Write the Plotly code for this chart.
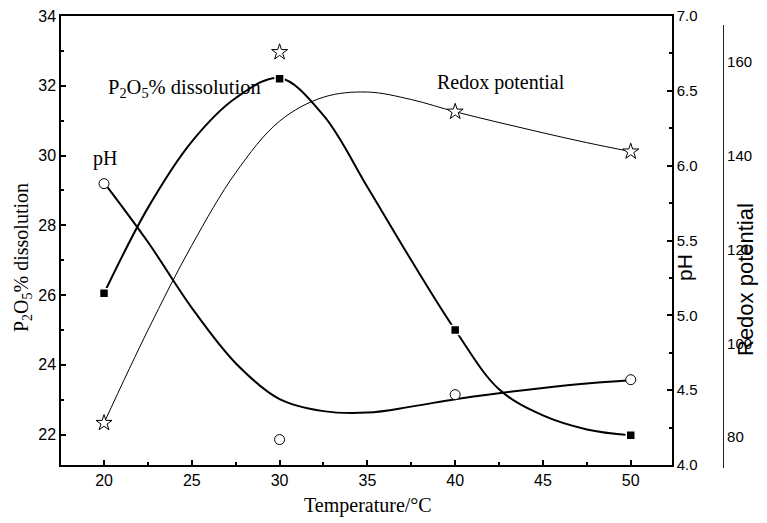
import plotly.graph_objects as go

# ---- measured data points ----
temperature = [20, 30, 40, 50]
p2o5_dissolution = [26.05, 32.2, 25.0, 21.98]
ph_values = [5.88, 4.17, 4.47, 4.57]
redox_potential = [83.0, 162.1, 149.4, 140.9]

# ---- smooth guide curves ----
curve_x = [20, 22.5, 25, 27.5, 30, 32.5, 35, 37.5, 40, 42.5, 45, 47.5, 50]
p2o5_curve_y = [26.05, 28.5, 30.4, 31.65, 32.22, 31.15, 29.1, 27.0, 25.0, 23.3, 22.55, 22.15, 21.98]
ph_curve_y = [5.887, 5.49, 5.05, 4.68, 4.44, 4.36, 4.35, 4.39, 4.44, 4.48, 4.515, 4.545, 4.567]
redox_curve_y = [83.0, 102.8, 120.9, 136.4, 147.4, 152.5, 153.6, 152.0, 149.4, 147.1, 144.9, 142.8, 140.9]

left_ticks = [22, 24, 26, 28, 30, 32, 34]
ph_ticks = [4.0, 4.5, 5.0, 5.5, 6.0, 6.5, 7.0]
redox_ticks = [80, 100, 120, 140, 160]
x_ticks = [20, 25, 30, 35, 40, 45, 50]

W, H = 767, 523
ML, MR, MT, MB = 61, 0, 16, 55
PW = W - ML - MR
PH = H - MT - MB


def px(x):
    return (x - ML) / PW


def py(y):
    return (H - MB - y) / PH


SANS = "Liberation Sans, Arial, sans-serif"
SERIF = "Liberation Serif, Times New Roman, serif"

fig = go.Figure()

# P2O5 curve + markers
fig.add_trace(go.Scatter(x=curve_x, y=p2o5_curve_y, mode="lines",
                         line=dict(color="black", width=2, shape="spline", smoothing=1),
                         hoverinfo="skip", yaxis="y"))
fig.add_trace(go.Scatter(x=temperature, y=p2o5_dissolution, mode="markers",
                         marker=dict(symbol="square", size=9, color="black",
                                     line=dict(color="white", width=1.5)),
                         yaxis="y"))

# pH curve + markers
fig.add_trace(go.Scatter(x=curve_x, y=ph_curve_y, mode="lines",
                         line=dict(color="black", width=2, shape="spline", smoothing=1),
                         hoverinfo="skip", yaxis="y2"))
fig.add_trace(go.Scatter(x=temperature, y=ph_values, mode="markers",
                         marker=dict(symbol="circle", size=10, color="white",
                                     line=dict(color="black", width=1)),
                         yaxis="y2"))

# Redox curve + markers
fig.add_trace(go.Scatter(x=curve_x, y=redox_curve_y, mode="lines",
                         line=dict(color="black", width=1, shape="spline", smoothing=1),
                         hoverinfo="skip", yaxis="y3"))
fig.add_trace(go.Scatter(x=temperature, y=redox_potential, mode="markers",
                         marker=dict(symbol="star", size=12, color="white",
                                     line=dict(color="black", width=1)),
                         yaxis="y3"))

x_end = (672 - ML) / PW
y_start = (H - MB - 465) / PH
y3_top = (H - MB - 25) / PH

fig.update_layout(
    width=W, height=H,
    margin=dict(l=ML, r=MR, t=MT, b=MB, autoexpand=False),
    paper_bgcolor="white", plot_bgcolor="rgba(0,0,0,0)",
    showlegend=False,
    xaxis=dict(domain=[0, x_end], range=[17.55, 52.35], tickvals=x_ticks,
               ticks="inside", ticklen=5, tickwidth=1.5, tickcolor="black",
               minor=dict(dtick=2.5, tick0=0, ticks="inside", ticklen=3, tickcolor="black"),
               showline=True, linecolor="black", linewidth=1.5, mirror=True,
               showgrid=False, zeroline=False, automargin=False,
               tickfont=dict(family=SANS, size=16, color="black"), anchor="y"),
    yaxis=dict(domain=[y_start, 1], range=[21.13, 34], tickvals=left_ticks,
               ticks="inside", ticklen=5, tickwidth=1.5, tickcolor="black",
               minor=dict(dtick=1, tick0=0, ticks="inside", ticklen=3, tickcolor="black"),
               showline=True, linecolor="black", linewidth=1.5,
               showgrid=False, zeroline=False, automargin=False,
               tickfont=dict(family=SANS, size=16, color="black"), anchor="x"),
    yaxis2=dict(overlaying="y", side="right", anchor="x", range=[4, 7],
                tickvals=ph_ticks, ticktext=[f"{v:.1f}" for v in ph_ticks],
                ticks="inside", ticklen=5, tickwidth=1.5, tickcolor="black",
                minor=dict(dtick=0.25, tick0=0, ticks="inside", ticklen=3, tickcolor="black"),
                showline=True, linecolor="black", linewidth=1.5,
                showgrid=False, zeroline=False, automargin=False,
                tickfont=dict(family=SANS, size=15, color="black")),
    yaxis3=dict(domain=[0, y3_top], anchor="free", position=px(723), side="right",
                range=[73.4, 167.9], tickvals=redox_ticks, ticks="",
                showline=True, linecolor="#222", linewidth=1.2,
                showgrid=False, zeroline=False, automargin=False,
                ticklabelstandoff=0,
                tickfont=dict(family=SANS, size=15, color="black")),
)

annotations = [
    dict(text="Temperature/°C", x=px(368), y=py(505), xanchor="center", yanchor="middle",
         font=dict(family=SERIF, size=20, color="black")),
    dict(text="P<sub>2</sub>O<sub>5</sub>% dissolution", x=px(22), y=py(258), textangle=-90,
         xanchor="center", yanchor="middle", font=dict(family=SERIF, size=20, color="black")),
    dict(text="P<sub>2</sub>O<sub>5</sub>% dissolution", x=px(106), y=py(88),
         xanchor="left", yanchor="middle", font=dict(family=SERIF, size=20.5, color="black")),
    dict(text="pH", x=px(91), y=py(158), xanchor="left", yanchor="middle",
         font=dict(family=SERIF, size=20, color="black")),
    dict(text="Redox potential", x=px(435), y=py(83), xanchor="left", yanchor="middle",
         font=dict(family=SERIF, size=20, color="black")),
    dict(text="pH", x=px(684), y=py(268), textangle=-90, xanchor="center", yanchor="middle",
         font=dict(family=SANS, size=21, color="black")),
    dict(text="Redox potential", x=px(745), y=py(280), textangle=-90, xanchor="center",
         yanchor="middle", font=dict(family=SANS, size=22, color="black")),
]
for a in annotations:
    a.update(xref="paper", yref="paper", showarrow=False)
fig.update_layout(annotations=annotations)

fig.write_html("out.html")
